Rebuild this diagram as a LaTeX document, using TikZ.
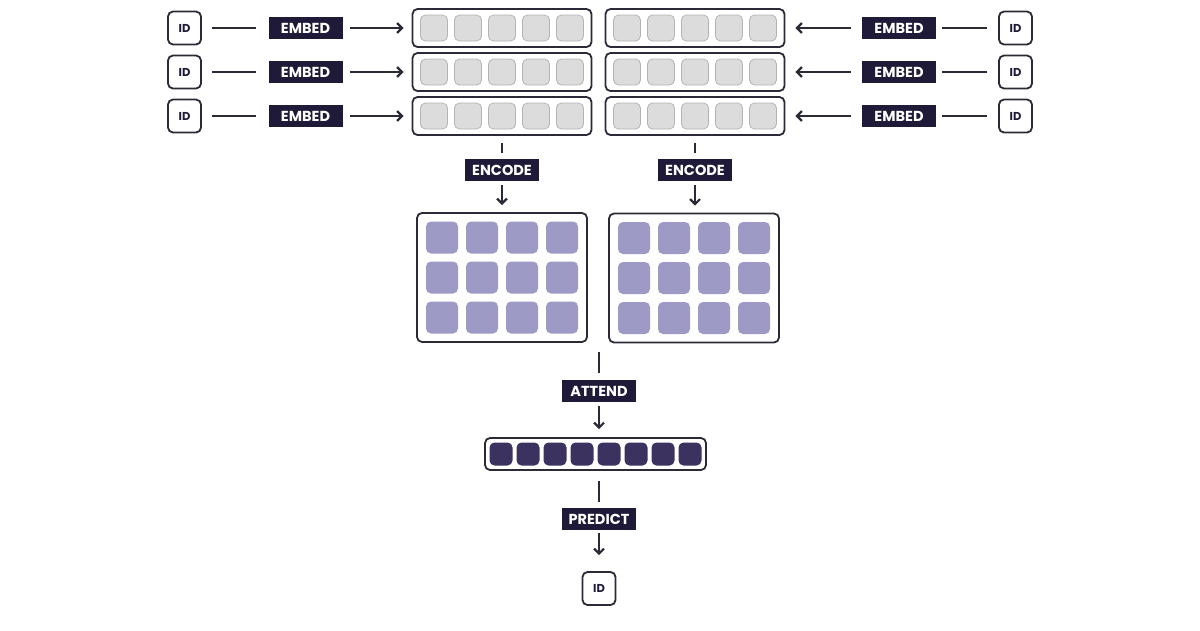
\documentclass[tikz,border=0pt]{standalone}
\usepackage{fontspec}
\setmainfont{Poppins}
\usetikzlibrary{arrows.meta}
\definecolor{navy}{HTML}{1E1A38}
\definecolor{edge}{HTML}{2B2A36}
\definecolor{cellgray}{HTML}{DCDCDC}
\definecolor{cellline}{HTML}{B4B4B4}
\definecolor{purp}{HTML}{9D9AC6}
\definecolor{dpurp}{HTML}{3C325F}
\begin{document}
\begin{tikzpicture}[x=1pt,y=-1pt,
  idbox/.style={draw=edge,line width=1.8pt,rounded corners=5pt,minimum width=33pt,minimum height=33pt,inner sep=0pt,font=\bfseries\fontsize{11.5}{11.5}\selectfont,text=navy},
  tag/.style={fill=navy,text=white,minimum width=74pt,minimum height=22pt,inner sep=0pt,font=\bfseries\fontsize{14.5}{14.5}\selectfont},
  frame/.style={draw=edge,line width=1.8pt,rounded corners=5pt,inner sep=0pt},
  gcell/.style={fill=cellgray,draw=cellline,line width=0.8pt,rounded corners=5pt,minimum width=27pt,minimum height=26pt,inner sep=0pt},
  pcell/.style={fill=purp,rounded corners=5pt,minimum width=32pt,minimum height=32pt,inner sep=0pt},
  dcell/.style={fill=dpurp,rounded corners=5pt,minimum width=23pt,minimum height=23pt,inner sep=0pt},
  link/.style={draw=edge,line width=2.2pt},
  arr/.style={link,-{Straight Barb[length=5pt,width=10pt]}}
]
\useasboundingbox (0,0) rectangle (1200,630);
% embedding rows
\foreach \i/\y in {1/28,2/72,3/116}{
  \node[idbox] (idL\i) at (184.5,\y) {ID};
  \node[tag] (embL\i) at (305.5,\y) {EMBED};
  \node[frame,minimum width=179pt,minimum height=38pt] (vecL\i) at (502,\y) {};
  \node[frame,minimum width=179pt,minimum height=38pt] (vecR\i) at (695,\y) {};
  \node[tag] (embR\i) at (899,\y) {EMBED};
  \node[idbox] (idR\i) at (1015.5,\y) {ID};
  \foreach \k/\dx in {1/-68,2/-34,3/0,4/34,5/68}{
    \node[gcell] (gL\i\k) at ([xshift=\dx pt]vecL\i.center) {};
    \node[gcell] (gR\i\k) at ([xshift=\dx pt]vecR\i.center) {};
  }
  \draw[link,shorten <=10pt,shorten >=12pt] (idL\i) -- (embL\i);
  \draw[arr,shorten <=7pt,shorten >=8pt] (embL\i) -- (vecL\i);
  \draw[link,shorten <=11pt,shorten >=6pt] (idR\i) -- (embR\i);
  \draw[arr,shorten <=11pt,shorten >=10pt] (embR\i) -- (vecR\i);
}
% encode
\node[tag] (encL) at (502,170) {ENCODE};
\node[tag] (encR) at (695,170) {ENCODE};
\node[frame,minimum width=170pt,minimum height=129pt] (gridL) at (502,277.5) {};
\node[frame,minimum width=170pt,minimum height=129pt] (gridR) at (694,278) {};
\foreach \r/\dy in {1/-40,2/0,3/40}{
  \foreach \c/\dx in {1/-60,2/-20,3/20,4/60}{
    \node[pcell] (pL\r\c) at ([xshift=\dx pt,yshift=-\dy pt]gridL.center) {};
    \node[pcell] (pR\r\c) at ([xshift=\dx pt,yshift=-\dy pt]gridR.center) {};
  }
}
\draw[link,shorten <=7pt,shorten >=6pt] (vecL3) -- (encL);
\draw[arr,shorten <=4pt,shorten >=7pt] (encL) -- (gridL);
\draw[link,shorten <=7pt,shorten >=6pt] (vecR3) -- (encR);
\draw[arr,shorten <=4pt,shorten >=7pt] (encR.south) -- (encR |- gridR.north);
% attend
\coordinate (gsplit) at (599,342);
\node[tag] (attend) at (599,391) {ATTEND};
\node[frame,minimum width=221pt,minimum height=32pt] (bar) at (595.5,454) {};
\foreach \k in {0,...,7}{
  \pgfmathsetmacro{\dx}{-94.5+27*\k}
  \node[dcell] (d\k) at ([xshift=\dx pt]bar.center) {};
}
\draw[link,shorten <=10pt,shorten >=7pt] (gsplit) -- (attend);
\draw[arr,shorten <=4pt,shorten >=8pt] (attend.south) -- (attend |- bar.north);
% predict
\node[tag] (predict) at (599,519) {PREDICT};
\node[idbox] (idout) at (599,588.5) {ID};
\draw[link,shorten <=10pt,shorten >=6pt] (bar.south -| predict) -- (predict.north);
\draw[arr,shorten <=3pt,shorten >=16pt] (predict) -- (idout);
\end{tikzpicture}
\end{document}
